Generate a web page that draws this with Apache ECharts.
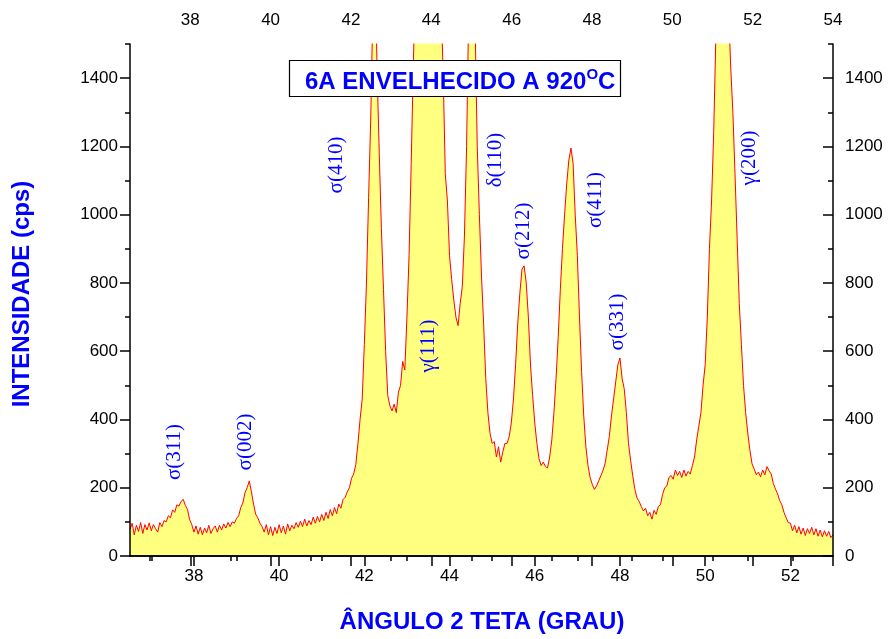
<!DOCTYPE html>
<html><head><meta charset="utf-8">
<script src="https://cdn.jsdelivr.net/npm/echarts@6/dist/echarts.min.js"></script>
<style>html,body{margin:0;padding:0;background:#fff}#c{width:895px;height:639px}</style>
</head><body><div id="c"></div>
<script>
// ---- data ----
const START_ANGLE = 36.5;   // first sample, degrees 2θ
const ANGLE_STEP = 0.05;    // sampling step
const intensity = [
  78, 96, 62, 90, 72, 98, 66, 92, 76, 97,          // 36.5
  74, 92, 80, 70, 98, 86, 104, 100, 118, 112,      // 37.0
  135, 128, 150, 146, 160, 166, 148, 136, 106, 92, // 37.5
  70, 88, 64, 84, 62, 82, 68, 90, 66, 80,          // 38.0
  88, 70, 90, 76, 94, 82, 98, 86, 100, 96,         // 38.5
  110, 118, 142, 156, 186, 200, 220, 188, 152, 122,// 39.0
  112, 96, 86, 70, 92, 62, 86, 60, 84, 66,         // 39.5
  92, 68, 88, 64, 94, 74, 90, 80, 98, 84,          // 40.0
  102, 86, 108, 88, 104, 92, 114, 96, 116, 100,    // 40.5
  122, 104, 128, 110, 136, 118, 142, 124, 152, 140,// 41.0
  165, 172, 188, 200, 228, 240, 268, 330, 400, 460,// 41.5
  620, 800, 1050, 1280, 1600, 1750, 1420, 1180, 960, 780, // 42.0
  600, 470, 440, 425, 445, 420, 480, 500, 570, 545,// 42.5
  700, 880, 1150, 1440, 1700, 1900, 2050, 2150, 2200, 2250, // 43.0
  2280, 2250, 2200, 2100, 1950, 1800, 1620, 1420, 1120, 1040, // 43.5
  880, 810, 750, 700, 675, 740, 790, 940, 1200, 1600, // 44.0
  1800, 1750, 1560, 1200, 1000, 820, 680, 520, 420, 360, // 44.5
  330, 335, 290, 320, 275, 305, 330, 330, 350, 390,// 45.0
  460, 560, 680, 770, 840, 850, 800, 700, 560, 470,// 45.5
  390, 330, 285, 265, 275, 262, 258, 290, 340, 420,// 46.0
  520, 640, 780, 900, 1000, 1090, 1160, 1195, 1150, 1000, // 46.5
  880, 700, 540, 410, 320, 265, 230, 210, 195, 205,// 47.0
  220, 235, 250, 270, 310, 350, 410, 460, 510, 560,// 47.5
  580, 520, 490, 420, 330, 280, 235, 195, 170, 160,// 48.0
  145, 132, 140, 118, 128, 108, 134, 122, 145, 150,// 48.5
  180, 200, 205, 230, 236, 225, 252, 236, 248, 230,// 49.0
  252, 234, 248, 240, 265, 290, 340, 380, 420, 500,// 49.5
  560, 700, 900, 1040, 1240, 1520, 1900, 2300, 2500, 2400, // 50.0
  2000, 1600, 1430, 1300, 1120, 930, 740, 620, 500, 420, // 50.5
  360, 310, 270, 255, 238, 246, 232, 252, 238, 262,// 51.0
  250, 240, 212, 196, 182, 162, 150, 128, 112, 98, // 51.5
  96, 74, 90, 68, 86, 64, 82, 60, 80, 66,          // 52.0
  84, 62, 80, 58, 76, 56, 74, 58, 72, 54,          // 52.5
  62                                               // 53.0
];
const bottomTickLabels = [38, 40, 42, 44, 46, 48, 50, 52];
const bottomMinorTicks = [37, 39, 41, 43, 45, 47, 49, 51, 53];
const topTickLabels = [38, 40, 42, 44, 46, 48, 50, 52, 54];
const topMinorTicks = [37, 39, 41, 43, 45, 47, 49, 51, 53];
const yTickLabels = [0, 200, 400, 600, 800, 1000, 1200, 1400];
const yMinorTicks = [100, 300, 500, 700, 900, 1100, 1300, 1500];
const peakNames = ['σ(311)', 'σ(002)', 'σ(410)', 'γ(111)', 'δ(110)', 'σ(212)', 'σ(411)', 'σ(331)', 'γ(200)'];
const titleMain = '6A ENVELHECIDO A 920';
const titleSup = 'O';
const titleEnd = 'C';
const xTitle = 'ÂNGULO 2 TETA (GRAU)';
const yTitle = 'INTENSIDADE (cps)';

// ---- layout (pixels) ----
const peakLabelPos = [[174,452],[245,442],[336,165],[428,346],[495,160],[523,231],[595,200],[617,322],[749,158]];

const points = intensity.map((v, i) => [+(START_ANGLE + i * ANGLE_STEP).toFixed(2), v]);

const FONT = 'Liberation Sans, Arial, sans-serif';
const axisLine = {show: true, lineStyle: {color: '#000', width: 1.5}};
const lbl = {fontFamily: FONT, fontSize: 17, color: '#000', formatter: v => String(v)};
const tickStyle = {color: '#000', width: 1.5};

function majorAxis(pos, min, max, labels, inside, margin) {
  return {type: 'value', position: pos, min, max, z: 5,
    axisLine, splitLine: {show: false},
    axisTick: {show: true, inside, length: 10, lineStyle: tickStyle, customValues: labels},
    axisLabel: Object.assign({margin, customValues: labels}, lbl)};
}
function minorAxis(pos, min, max, ticks, inside) {
  return {type: 'value', position: pos, min, max, z: 5,
    axisLine: {show: false}, splitLine: {show: false}, axisLabel: {show: false},
    axisTick: {show: true, inside, length: 5, lineStyle: tickStyle, customValues: ticks}};
}

const chart = echarts.init(document.getElementById('c'), null, {renderer: 'canvas'});
chart.setOption({
  animation: false,
  backgroundColor: '#fff',
  grid: {left: 130, right: 62, top: 44, bottom: 83},
  xAxis: [
    majorAxis('bottom', 36.5, 53, bottomTickLabels, false, 12),
    minorAxis('bottom', 36.5, 53, bottomMinorTicks, false),
    majorAxis('top', 36.5, 54, topTickLabels, true, 15),
    minorAxis('top', 36.5, 54, topMinorTicks, true)
  ],
  yAxis: [
    majorAxis('left', 0, 1500, yTickLabels, false, 12),
    minorAxis('left', 0, 1500, yMinorTicks, false),
    majorAxis('right', 0, 1500, yTickLabels, true, 12),
    minorAxis('right', 0, 1500, yMinorTicks, true)
  ],
  series: [{
    type: 'line', xAxisIndex: 0, yAxisIndex: 0, data: points,
    showSymbol: false, symbol: 'none', clip: true, smooth: false,
    lineStyle: {color: '#ff0000', width: 1},
    areaStyle: {color: '#ffff80', opacity: 1, origin: 'start'},
    z: 2
  }],
  graphic: [
    {type: 'rect', z: 10, shape: {x: 289.5, y: 60.5, width: 331, height: 36},
     style: {fill: '#fff', stroke: '#000', lineWidth: 1.2}},
    {type: 'text', z: 11, x: 305, y: 82,
     style: {text: '{a|' + titleMain + '}{s|' + titleSup + '}{a|' + titleEnd + '}',
       align: 'left', verticalAlign: 'middle',
       rich: {a: {fontFamily: FONT, fontSize: 24, fontWeight: 'bold', fill: '#0000ff', color: '#0000ff', lineHeight: 30},
              s: {fontFamily: FONT, fontSize: 15, fontWeight: 'bold', fill: '#0000ff', color: '#0000ff', lineHeight: 15, verticalAlign: 'top'}}}},
    {type: 'text', z: 11, x: 482, y: 622,
     style: {text: xTitle, font: 'bold 24px ' + FONT, fill: '#0000ff', align: 'center', verticalAlign: 'middle'}},
    {type: 'text', z: 11, x: 22, y: 294, rotation: Math.PI / 2,
     style: {text: yTitle, font: 'bold 24px ' + FONT, fill: '#0000ff', align: 'center', verticalAlign: 'middle'}}
  ].concat(peakNames.map((t, i) => ({
    type: 'text', z: 11, x: peakLabelPos[i][0], y: peakLabelPos[i][1], rotation: Math.PI / 2,
    style: {text: t, font: '21px Liberation Serif, Times New Roman, serif', fill: '#0000ff', align: 'center', verticalAlign: 'middle'}
  })))
});
</script>
</body></html>
